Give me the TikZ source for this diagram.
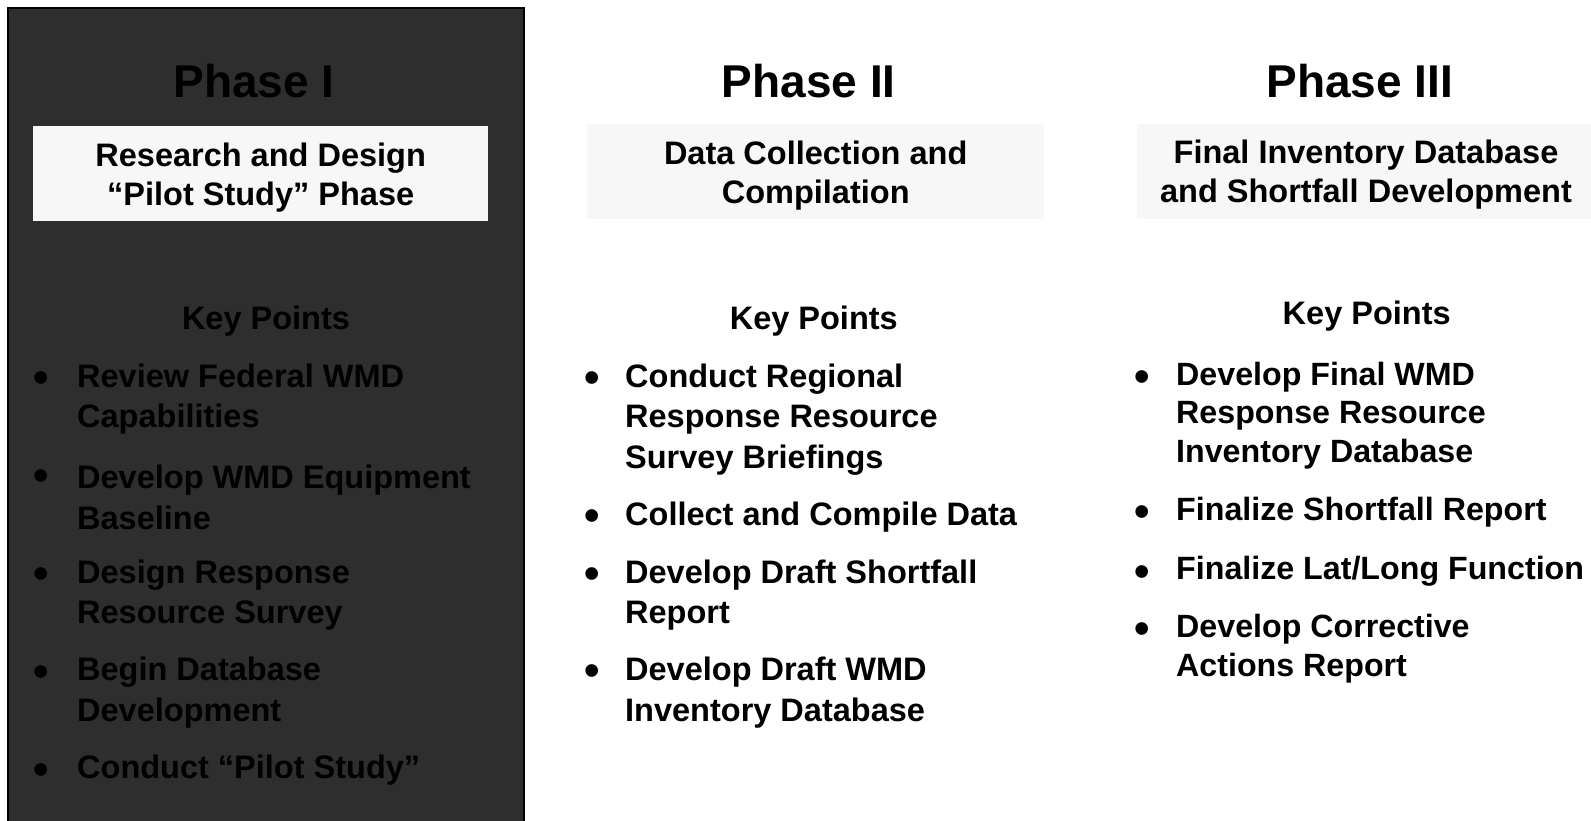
\documentclass[tikz,border=0pt]{standalone}
\usepackage{fontspec}
\setmainfont{Liberation Sans}
\definecolor{panelgray}{HTML}{2E2E2E}
\definecolor{boxgray}{HTML}{F7F7F7}
\tikzset{
  phase/.style={font=\bfseries\fontsize{46}{50}\selectfont},
  subbox/.style={fill=boxgray, minimum width=#1, minimum height=95pt, inner sep=0pt},
  subtext/.style={align=center, inner sep=0pt, font=\bfseries\fontsize{32.5}{39}\selectfont},
  keyhead/.style={font=\bfseries\fontsize{32.5}{39}\selectfont},
  point/.style={anchor=west, align=left, inner sep=0pt,
    font=\bfseries\fontsize{32.5}{40.6}\selectfont},
  dot/.style={inner sep=0pt, font=\bfseries\fontsize{44}{44}\selectfont},
}
\begin{document}
\begin{tikzpicture}[x=1pt,y=-1pt]
  \useasboundingbox[fill=white] (0,0) rectangle (1591,820);

  % phase one panel
  \draw[fill=panelgray, line width=1.2pt] (8,8) rectangle (524,840);
  \node[phase] (ph1) at (254,81) {Phase I};
  \node[subbox=455pt, fill=white!97!black] (box1) at (260.7,173.5) {};
  \node[subtext] (sub1) at ([yshift=-4pt]box1.center) {Research and Design\\``Pilot Study'' Phase};
  \node[keyhead] (key1) at (266,320.6) {Key Points};
  \node[point] (p1a) at (77,399.2) {Review Federal WMD\\Capabilities};
  \node[point] (p1b) at (77,497.1) {Develop WMD Equipment\\Baseline};
  \node[point] (p1c) at (77,595) {Design Response\\Resource Survey};
  \node[point] (p1d) at (77,692.5) {Begin Database\\Development};
  \node[point] (p1e) at (77,770.5) {Conduct ``Pilot Study''};
  \foreach \y in {382,480.4,577.8,676.3,773.6}
    \node[dot] at (41.6,\y) {•};

  % phase two
  \node[phase] (ph2) at (808.7,81) {Phase II};
  \node[subbox=456.5pt] (box2) at (815.7,171.5) {};
  \node[subtext] (sub2) at ([yshift=-4pt]box2.center) {Data Collection and\\Compilation};
  \node[keyhead] (key2) at (813.8,320.6) {Key Points};
  \node[point] (p2a) at (625,419.5) {Conduct Regional\\Response Resource\\Survey Briefings};
  \node[point] (p2b) at (625,516.9) {Collect and Compile Data};
  \node[point] (p2c) at (625,595) {Develop Draft Shortfall\\Report};
  \node[point] (p2d) at (625,692.5) {Develop Draft WMD\\Inventory Database};
  \foreach \y in {382,520,577.8,675.3}
    \node[dot] at (591.7,\y) {•};

  % phase three
  \node[phase] (ph3) at (1359.7,81) {Phase III};
  \node[subbox=458pt] (box3) at (1366,171) {};
  \node[subtext] (sub3) at ([yshift=-4pt]box3.center) {Final Inventory Database\\and Shortfall Development};
  \node[keyhead] (key3) at (1366.7,316.5) {Key Points};
  \node[point, font=\bfseries\fontsize{32.2}{38.6}\selectfont] (p3a) at (1176,415.5) {Develop Final WMD\\Response Resource\\Inventory Database};
  \node[point, font=\bfseries\fontsize{32.2}{38.6}\selectfont] (p3b) at (1176,511.9) {Finalize Shortfall Report};
  \node[point, font=\bfseries\fontsize{32.2}{38.6}\selectfont] (p3c) at (1176,571.7) {Finalize Lat/Long Function};
  \node[point, font=\bfseries\fontsize{32.2}{38.6}\selectfont] (p3d) at (1176,648.8) {Develop Corrective\\Actions Report};
  \foreach \y in {381,515.8,575.6,633.4}
    \node[dot] at (1141.7,\y) {•};
\end{tikzpicture}
\end{document}
